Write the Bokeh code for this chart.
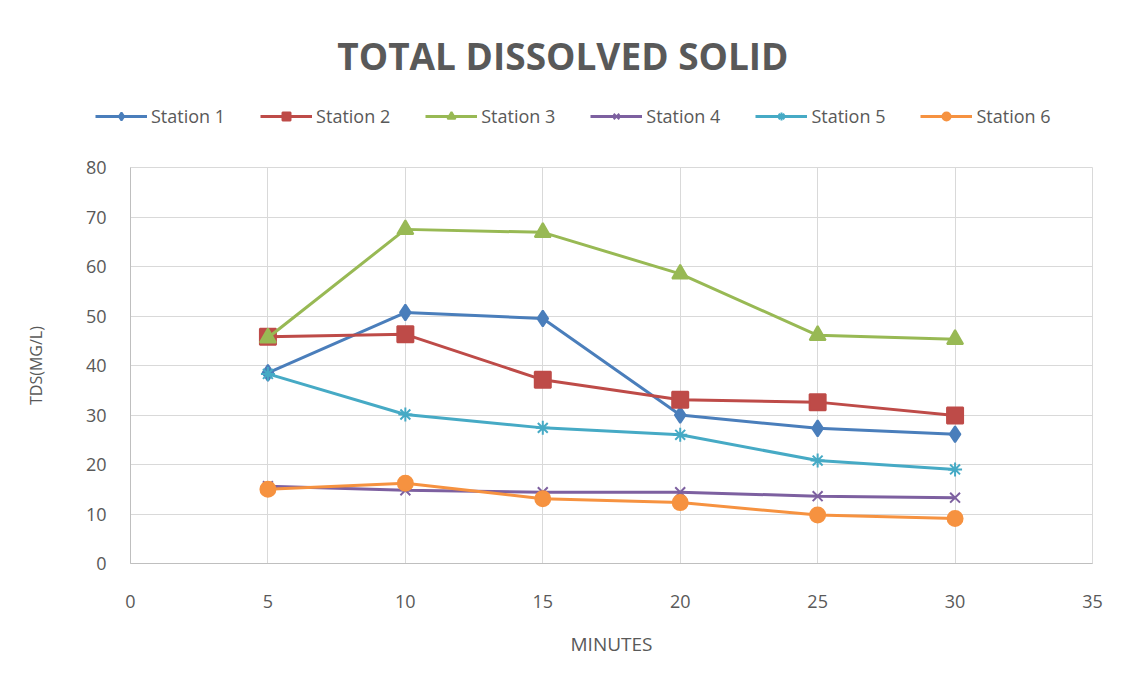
from bokeh.plotting import figure
from bokeh.models import Legend, LegendItem, Label, FixedTicker, Range1d
from bokeh.embed import file_html
from bokeh.resources import INLINE

minutes = [5, 10, 15, 20, 25, 30]
station1 = [38.5, 50.7, 49.5, 30.0, 27.3, 26.1]
station2 = [45.8, 46.3, 37.1, 33.1, 32.6, 29.9]
station3 = [45.6, 67.5, 66.9, 58.5, 46.1, 45.3]
station4 = [15.6, 14.8, 14.4, 14.4, 13.6, 13.3]
station5 = [38.3, 30.1, 27.4, 26.0, 20.8, 19.0]
station6 = [15.0, 16.2, 13.1, 12.3, 9.8, 9.1]
names = ["Station 1", "Station 2", "Station 3", "Station 4", "Station 5", "Station 6"]
x_ticks = [0, 5, 10, 15, 20, 25, 30, 35]
y_ticks = [0, 10, 20, 30, 40, 50, 60, 70, 80]

series = [station1, station2, station3, station4, station5, station6]
colors = ["#4a7ebb", "#be4b48", "#98b954", "#7d60a0", "#46aac5", "#f69240"]
markers = ["diamond", "square", "triangle", "x", "asterisk", "circle"]
msizes = [16, 16, 16, 14, 14, 15]

FONT = "Open Sans"
TXT = "#595959"

# ---- header figure: title + legend ----
top = figure(width=1125, height=150, output_backend="svg", toolbar_location=None,
             x_range=Range1d(100, 101), y_range=Range1d(100, 101),
             x_axis_type=None, y_axis_type=None, min_border=0)
top.outline_line_color = None
top.grid.visible = False
top.background_fill_color = "white"
top.border_fill_color = "white"

items = []
for name, ys, c, m, s in zip(names, series, colors, markers, msizes):
    r1 = top.line(minutes, ys, line_color=c, line_width=3)
    r2 = top.scatter(minutes, ys, marker=m, size=s * 0.75, fill_color=c, line_color=c, line_width=2)
    items.append(LegendItem(label=name, renderers=[r1, r2]))

legend = Legend(items=items, orientation="horizontal", location=(95, 22),
                label_text_font=FONT, label_text_font_size="18px", label_text_color=TXT,
                glyph_width=52, glyph_height=20, spacing=35, label_standoff=4,
                border_line_color=None, background_fill_alpha=0, padding=0, margin=0)
top.add_layout(legend, "center")

title = Label(x=572, y=95, x_units="screen", y_units="screen", text="TOTAL  DISSOLVED  SOLID",
              text_font=FONT, text_font_size="37px", text_font_style="bold", text_color=TXT,
              text_align="center", text_baseline="middle")
top.add_layout(title)

# ---- main chart ----
p = figure(width=1125, height=530, output_backend="svg", toolbar_location=None,
           x_range=Range1d(0, 35), y_range=Range1d(0, 80),
           min_border_left=130, min_border_right=33, min_border_top=17, min_border_bottom=117)
p.frame_width = 962
p.frame_height = 396
p.outline_line_color = "#d9d9d9"
p.background_fill_color = "white"
p.border_fill_color = "white"

for name, ys, c, m, s in zip(names, series, colors, markers, msizes):
    p.line(minutes, ys, line_color=c, line_width=3)
    p.scatter(minutes, ys, marker=m, size=s, fill_color=c, line_color=c, line_width=2)

for ax in (p.xaxis[0], p.yaxis[0]):
    ax.major_tick_line_color = None
    ax.minor_tick_line_color = None
    ax.axis_line_color = "#bfbfbf"
    ax.major_label_text_font = FONT
    ax.major_label_text_color = TXT
    ax.major_label_text_font_size = "18px"
    ax.axis_label_text_font = FONT
    ax.axis_label_text_color = TXT
    ax.axis_label_text_font_style = "normal"

p.xaxis.axis_label_text_font_size = "19px"
p.yaxis.axis_label_text_font_size = "16px"
p.xaxis.ticker = FixedTicker(ticks=x_ticks)
p.yaxis.ticker = FixedTicker(ticks=y_ticks)
p.xaxis.axis_label = "MINUTES"
p.yaxis.axis_label = "TDS(MG/L)"
p.xaxis.major_label_standoff = 25
p.xaxis.axis_label_standoff = 20
p.yaxis.major_label_standoff = 18
p.yaxis.axis_label_standoff = 36

p.xgrid.ticker = FixedTicker(ticks=x_ticks)
p.ygrid.ticker = FixedTicker(ticks=y_ticks)
p.xgrid.grid_line_color = "#d9d9d9"
p.ygrid.grid_line_color = "#d9d9d9"

open("out.html", "w").write(file_html([top, p], INLINE))
